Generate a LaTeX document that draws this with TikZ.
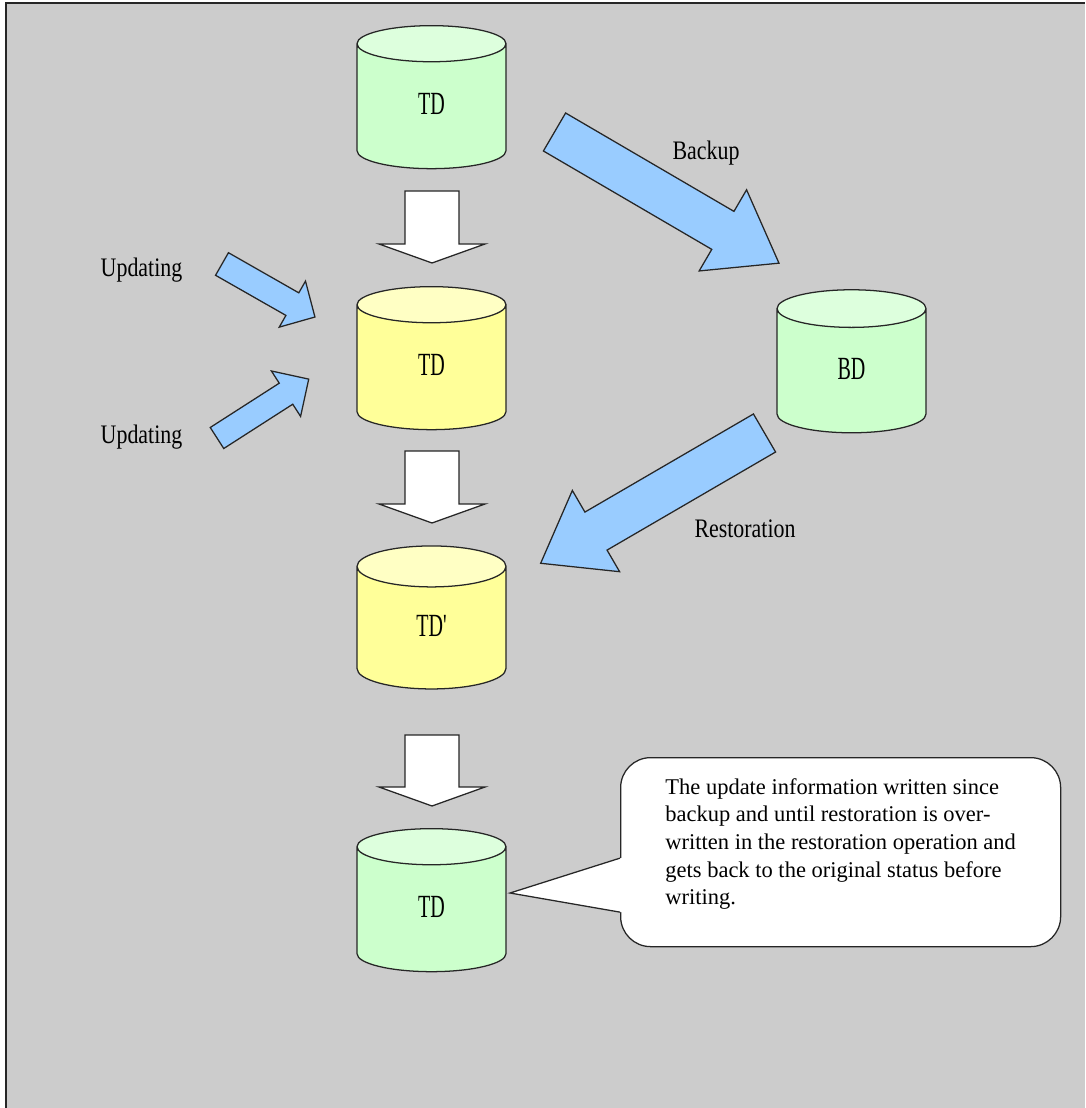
\documentclass[tikz,border=0pt]{standalone}
\usepackage{fontspec}
\setmainfont{Liberation Serif}
\newfontfamily\labelfont[FakeStretch=0.82]{Liberation Serif}
\newfontfamily\dbfont[FakeStretch=0.62]{Liberation Serif}
\usepackage{xcolor}
\usetikzlibrary{positioning,shapes.geometric,calc}

\definecolor{panelgray}{HTML}{CCCCCC}
\definecolor{dbgreen}{HTML}{CCFFCC}
\definecolor{dbgreentop}{HTML}{DDFFDD}
\definecolor{dbyellow}{HTML}{FFFF99}
\definecolor{dbyellowtop}{HTML}{FFFFC4}
\definecolor{flowblue}{HTML}{99CCFF}
\definecolor{edge}{HTML}{262626}

\newlength\pxl
\setlength\pxl{0.025cm}

% block arrow: style, tail, angle, length, shaft half, head half, head length
\newcommand\blockarrow[7]{%
  \draw[#1, shift={(#2)}, rotate=#3] (0,-#5) -- ({#4-#7},-#5) -- ({#4-#7},-#6) -- (#4,0)
    -- ({#4-#7},#6) -- ({#4-#7},#5) -- (0,#5) -- cycle;}

\begin{document}
\begin{tikzpicture}[x=0.025cm, y=-0.025cm,
  db/.style={cylinder, shape border rotate=90, aspect=1.35, draw=edge, line width=0.9pt,
             cylinder uses custom fill, minimum width=149\pxl, minimum height=143\pxl,
             inner sep=0pt, text height=16\pxl, text depth=0pt,
             font=\dbfont\fontsize{23}{26}\selectfont},
  dbg/.style={db, cylinder body fill=dbgreen, cylinder end fill=dbgreentop},
  dby/.style={db, cylinder body fill=dbyellow, cylinder end fill=dbyellowtop},
  flow/.style={draw=edge, line width=0.9pt, fill=white, line join=miter},
  blue/.style={draw=edge, line width=0.9pt, fill=flowblue, line join=miter},
  lbl/.style={font=\labelfont\fontsize{19}{22}\selectfont, inner sep=0pt, anchor=base},
  note/.style={rectangle, rounded corners=30\pxl, draw=edge, line width=0.9pt, fill=white,
             align=left, minimum width=440\pxl, inner xsep=0pt, inner ysep=0pt,
             text height=147\pxl, text depth=42\pxl, font=\fontsize{16}{19.6}\selectfont},
]
\useasboundingbox (0,0) rectangle (1085,1108);
\fill[panelgray] (6,3) rectangle (1085,1108);
\draw[edge, line width=1.4pt] (6,1108) -- (6,3) -- (1085,3);

\node[dbg] (tdA) at (431.5,106.5) {TD};
\node[dby] (tdB) at (431.5,367.5) {TD};
\node[dby] (tdC) at (431.5,628)   {TD'};
\node[dbg] (tdD) at (431.5,909.5) {TD};
\node[dbg] (bd)  at (851.5,371)   {BD};

\blockarrow{flow}{432,191}{-90}{72}{27}{53}{19}
\blockarrow{flow}{432,451}{-90}{72}{27}{53}{19}
\blockarrow{flow}{432,735}{-90}{71}{27}{53}{19}

\blockarrow{blue}{554.5,132}{-30.3}{260}{22}{47}{65}
\blockarrow{blue}{764.5,433}{210.2}{259}{22}{47}{64}
\blockarrow{blue}{222,264}{-29.7}{107}{13}{26.5}{26}
\blockarrow{blue}{217,438}{32.7}{109}{12.5}{27}{27}

\node[lbl] (updlblA) at (141.5,277) {Updating};
\node[lbl] (updlblB) at (141.5,443) {Updating};
\node[lbl] (bkplbl)  at (706,160)   {Backup};
\node[lbl] (rstlbl)  at (745,537)   {Restoration};

\node[note, anchor=north west] (note) at (620,757)
  {The update information written since\\ backup and until restoration is over-\\
   written in the restoration operation and\\ gets back to the original status before\\ writing.};
\coordinate (tip) at (510,893);
\fill[white] ($(note.west)+(0,6)$) coordinate (pa) -- (tip) -- ($(note.west)+(0,60)$) coordinate (pb)
  -- ++(4,0) -- ($(pa)+(4,0)$) -- cycle;
\draw[edge, line width=0.9pt] (pa) -- (tip) -- (pb);
\end{tikzpicture}
\end{document}
